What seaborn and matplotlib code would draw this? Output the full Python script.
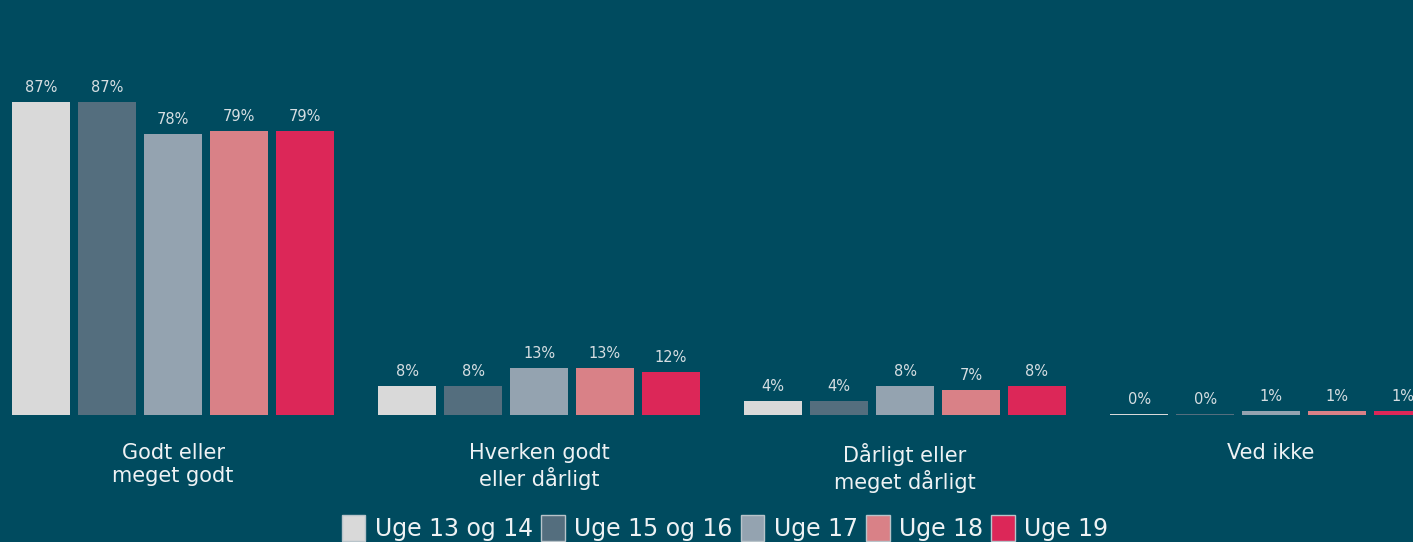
import matplotlib
matplotlib.use("Agg")
import matplotlib.pyplot as plt
import seaborn as sns
import pandas as pd

categories = ["Godt eller\nmeget godt", "Hverken godt\neller dårligt", "Dårligt eller\nmeget dårligt", "Ved ikke"]
series = ["Uge 13 og 14", "Uge 15 og 16", "Uge 17", "Uge 18", "Uge 19"]
uge_13_14 = [87, 8, 4, 0.3]
uge_15_16 = [87, 8, 4, 0.3]
uge_17 = [78, 13, 8, 1]
uge_18 = [79, 13, 7, 1]
uge_19 = [79, 12, 8, 1]
colors = ["#D9D9D9", "#546E7E", "#94A3B0", "#D98187", "#DC2758"]
bg = "#004B5F"

rows = []
for s, vals in zip(series, [uge_13_14, uge_15_16, uge_17, uge_18, uge_19]):
    for c, v in zip(categories, vals):
        rows.append({"cat": c, "serie": s, "val": v})
df = pd.DataFrame(rows)

sns.set_theme(style="white")
plt.rcParams['font.family'] = ['DejaVu Sans']
fig = plt.figure(figsize=(14.13, 5.42), dpi=100, facecolor=bg)
ax = fig.add_axes([0, 127 / 542, 1, 415 / 542])
ax.set_facecolor(bg)

sns.barplot(data=df, x="cat", y="val", hue="serie", order=categories, hue_order=series,
            palette=colors, saturation=1, width=0.9, gap=0.12, ax=ax, legend=False,
            edgecolor="none", linewidth=0)

for cont in ax.containers:
    ax.bar_label(cont, labels=[f"{round(b.get_height()):.0f}%" for b in cont],
                 padding=5, color="#D6DEE2", fontsize=10.5)

ax.set_xlim(-0.473, 3.388)
ax.set_ylim(0, 115.3)
ax.set_xlabel("")
ax.set_ylabel("")
ax.set_yticks([])
ax.tick_params(axis="x", length=0, pad=20, labelsize=15, labelcolor="#EEF2F4")
for sp in ax.spines.values():
    sp.set_visible(False)

from matplotlib.patches import Patch
handles = [Patch(facecolor=c, edgecolor="#B8C4CA", linewidth=1) for c in colors]
fig.legend(handles, series, loc="center", bbox_to_anchor=(725 / 1413, 1 - 528 / 542), ncol=5,
           frameon=False, fontsize=17, labelcolor="#EEF2F4", handlelength=1.0, handleheight=1.3,
           handletextpad=0.4, columnspacing=0.35, borderaxespad=0)

fig.savefig("out.png", dpi=100, facecolor=bg)
